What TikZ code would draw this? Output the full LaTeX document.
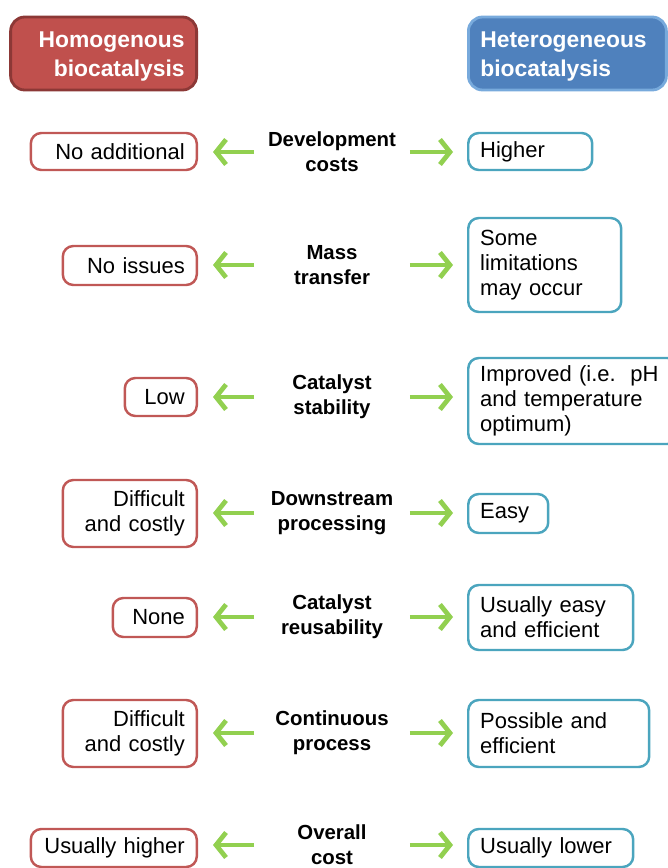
\documentclass[tikz,border=0pt]{standalone}
\usepackage{fontspec}
\setmainfont{Liberation Sans}
\usetikzlibrary{positioning,arrows.meta}

\definecolor{homred}{RGB}{192,80,77}
\definecolor{homredline}{RGB}{140,56,54}
\definecolor{hetblue}{RGB}{79,129,189}
\definecolor{hetblueline}{RGB}{120,170,220}
\definecolor{redframe}{RGB}{192,88,86}
\definecolor{blueframe}{RGB}{75,165,190}
\definecolor{arrowgreen}{RGB}{146,208,80}

\newcommand{\headstrut}{\rule{0pt}{12.8pt}}

\tikzset{
  head/.style={draw, line width=1.6pt, rounded corners=8pt, minimum width=#1cm, minimum height=1.46cm, inner xsep=0.24cm, text=white, font=\fontsize{13}{16.4}\selectfont\bfseries},
  homog/.style 2 args={draw=redframe, line width=1.4pt, rounded corners=6pt, fill=white, anchor=east, align=right, inner xsep=0.24cm, inner ysep=0pt, text width=#1cm, minimum height=#2cm, font=\fontsize{12.5}{14.2}\selectfont},
  heterog/.style 2 args={draw=blueframe, line width=1.4pt, rounded corners=6pt, fill=white, anchor=west, align=left, inner xsep=0.24cm, inner ysep=0pt, text width=#1cm, minimum height=#2cm, font=\fontsize{12.5}{14.2}\selectfont},
  prop/.style={align=center, text width=3.1cm, inner sep=0pt, font=\fontsize{11.6}{14}\selectfont\bfseries},
  greenarrow/.style={draw=arrowgreen, line width=2.7pt, -{Straight Barb[length=2mm,width=5mm]}}
}

\begin{document}
\begin{tikzpicture}[x=0.02cm, y=-0.02cm]
\useasboundingbox (0,0) rectangle (667,868);

% headers
\node[head=3.72, fill=homred, draw=homredline, anchor=east, align=right, text width=3.24cm] (homhead) at (198,53.5) {\headstrut Homogenous\\biocatalysis};
\node[head=3.96, fill=hetblue, draw=hetblueline, anchor=west, align=left, text width=3.48cm] (hethead) at (467,53.5) {\headstrut Heterogeneous\\biocatalysis};

% properties
\node[prop] (p1) at (332,152) {Development\\costs};
\node[prop] (p2) at (332,265) {Mass\\transfer};
\node[prop] (p3) at (332,397) {Catalyst\\stability};
\node[prop] (p4) at (332,513) {Downstream\\processing};
\node[prop] (p5) at (332,617) {Catalyst\\reusability};
\node[prop] (p6) at (332,733) {Continuous\\process};
\node[prop] (p7) at (332,845) {Overall\\cost};

% homogenous side
\node[homog={2.84}{0.74}] (h1) at (198,151.5) {No additional};
\node[homog={2.2}{0.78}] (h2) at (198,265.5) {No issues};
\node[homog={0.96}{0.76}] (h3) at (198,397) {Low};
\node[homog={2.2}{1.34}] (h4) at (198,513.5) {Difficult\\and costly};
\node[homog={1.2}{0.78}] (h5) at (198,617.5) {None};
\node[homog={2.2}{1.34}] (h6) at (198,733.5) {Difficult\\and costly};
\node[homog={2.84}{0.76}] (h7) at (198,848) {Usually higher};

% heterogeneous side
\node[heterog={2.0}{0.74}] (g1) at (467,151.5) {Higher};
\node[heterog={2.58}{1.88}] (g2) at (467,265) {Some\\limitations\\may occur};
\node[heterog={3.72}{1.72}] (g3) at (467,401) {Improved (i.e.~~pH\\and temperature\\optimum)};
\node[heterog={1.12}{0.78}] (g4) at (467,513.5) {Easy};
\node[heterog={2.82}{1.3}] (g5) at (467,617.5) {Usually easy\\and efficient};
\node[heterog={3.14}{1.34}] (g6) at (467,733.5) {Possible and\\efficient};
\node[heterog={2.82}{0.76}] (g7) at (467,848) {Usually lower};

% arrows
\foreach \i in {1,...,7} {
  \draw[greenarrow, shorten >=0.3cm] (p\i.west) -- (p\i.west -| h\i.east);
  \draw[greenarrow, shorten >=0.28cm] (p\i.east) -- (p\i.east -| g\i.west);
}
\end{tikzpicture}
\end{document}
